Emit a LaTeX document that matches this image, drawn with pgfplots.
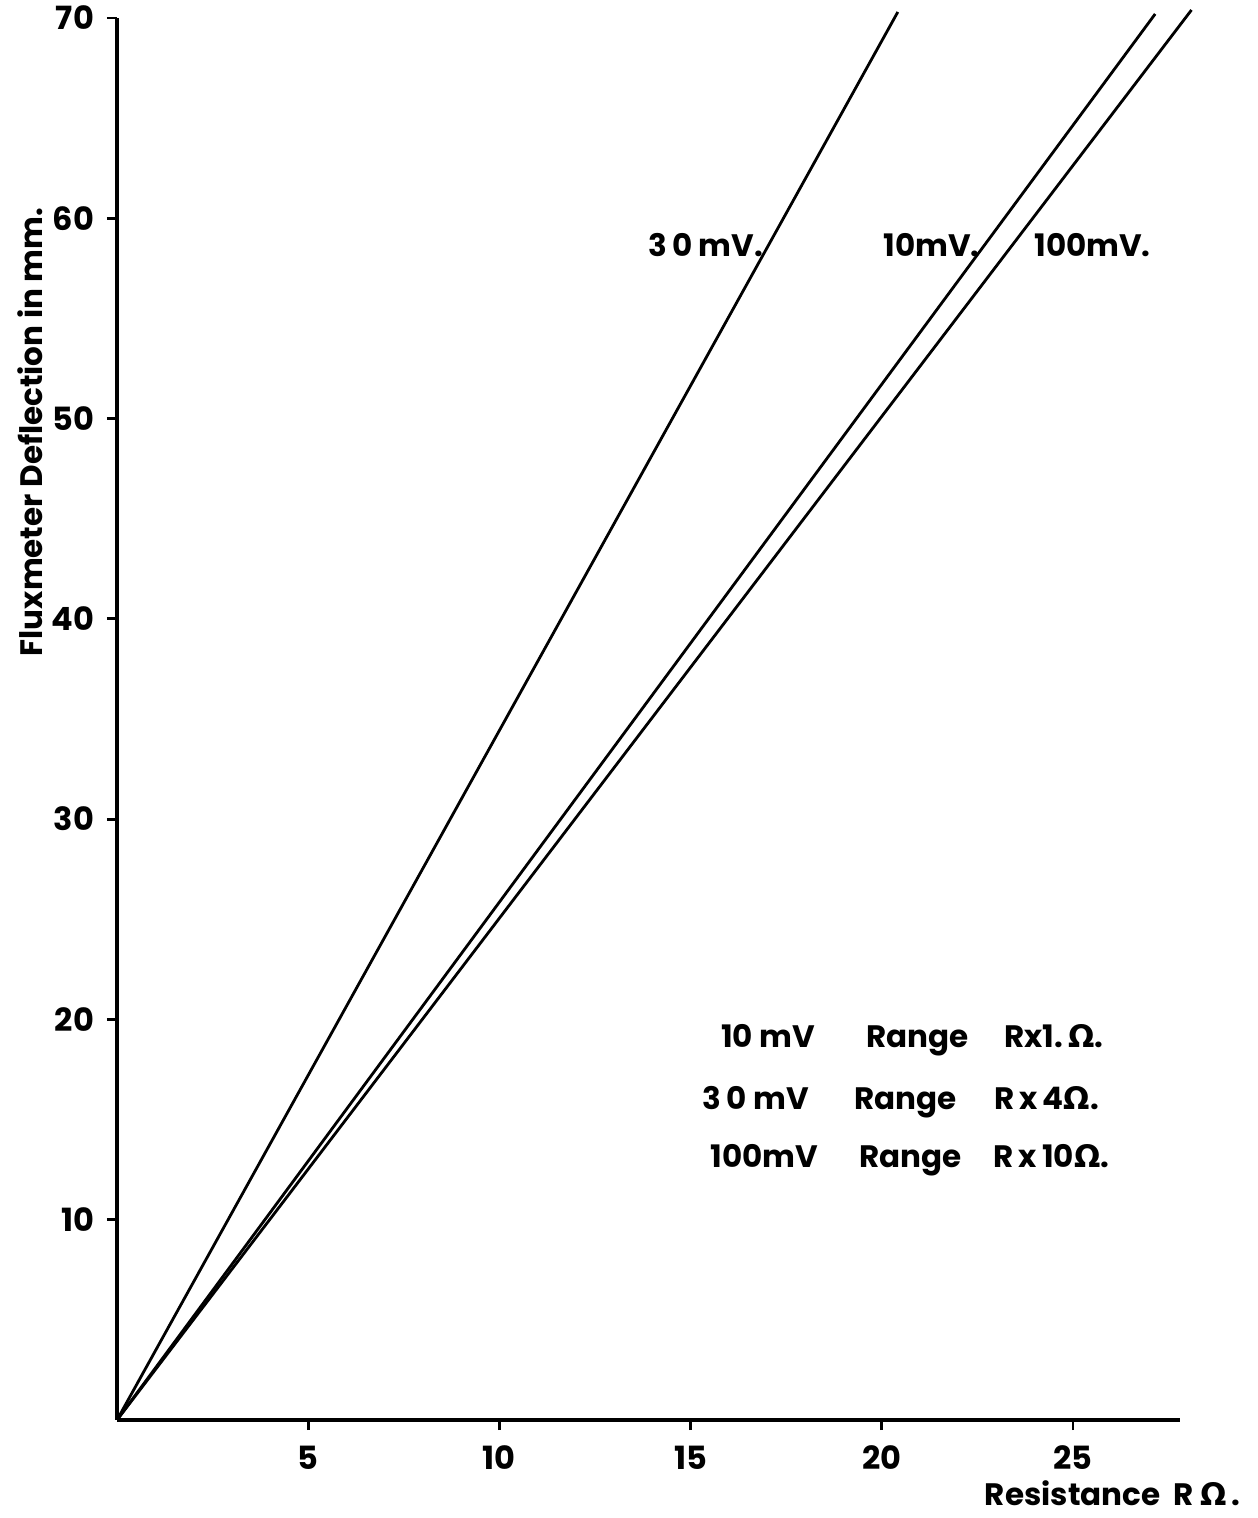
\documentclass[border=0pt]{standalone}
\usepackage{fontspec}
\setmainfont{Poppins}
\newfontfamily\gk{DejaVu Sans}
\usepackage{pgfplots}
\usetikzlibrary{calc}
\pgfplotsset{compat=1.18}
\newcommand{\lf}{\fontsize{15.5}{15.5}\selectfont\bfseries}
\begin{document}
\begin{tikzpicture}
\begin{axis}[
  name=ax,
  scale only axis, width=531.5pt, height=701pt,
  xmin=0, xmax=27.8, ymin=0, ymax=70,
  axis x line*=bottom, axis y line*=left,
  xtick={5,10,15,20,25}, ytick={10,20,30,40,50,60,70},
  tick align=outside, major tick length=5pt,
  axis line style={line width=2pt},
  every tick/.style={line width=1.4pt, black},
  ticklabel style={font=\fontsize{16}{16}\selectfont\bfseries},
  xticklabel style={yshift=-4.5pt},
  yticklabel style={xshift=-3pt},
  /pgf/number format/assume math mode=true,
  clip=false,
]
\coordinate (bl) at (rel axis cs:0,0);
\addplot[black, line width=1.4pt] coordinates {(0,0) (20.42,70.3)};
\addplot[black, line width=1.4pt] coordinates {(0,0) (27.15,70.2)};
\addplot[black, line width=1.4pt] coordinates {(0,0) (28.1,70.4)};
\node[anchor=base east, font=\lf, inner sep=0pt] at (axis cs:16.91,58.1) {3\,0 mV.};
\node[anchor=base east, font=\lf, inner sep=0pt] at (axis cs:22.57,58.1) {10mV.};
\node[anchor=base west, font=\lf, inner sep=0pt] at (axis cs:23.98,58.1) {100mV.};
% key text
\node[anchor=base west, font=\lf, inner sep=0pt] at (axis cs:15.79,18.62) {10 mV};
\node[anchor=base west, font=\lf, inner sep=0pt] at (axis cs:19.58,18.62) {Range};
\node[anchor=base west, font=\lf, inner sep=0pt] at (axis cs:23.19,18.62) {Rx1.\,{\gk Ω}.};
\node[anchor=base west, font=\lf, inner sep=0pt] at (axis cs:15.31,15.48) {3\,0 mV};
\node[anchor=base west, font=\lf, inner sep=0pt] at (axis cs:19.27,15.48) {Range};
\node[anchor=base west, font=\lf, inner sep=0pt] at (axis cs:22.93,15.48) {R\,x\,4{\gk Ω}.};
\node[anchor=base west, font=\lf, inner sep=0pt] at (axis cs:15.52,12.63) {100mV};
\node[anchor=base west, font=\lf, inner sep=0pt] at (axis cs:19.40,12.63) {Range};
\node[anchor=base west, font=\lf, inner sep=0pt] at (axis cs:22.91,12.63) {R\,x\,10{\gk Ω}.};
\end{axis}
\node[anchor=base east, font=\lf, inner sep=0pt] at ($(bl)+(562pt,-42.5pt)$) {Resistance\ \ R\ {\gk Ω}\,.};
\node[rotate=90, font=\lf] at ($(bl)+(-43.5pt,494pt)$) {Fluxmeter Deflection in mm.};
\pgfresetboundingbox
\path (bl) ++(-58.5pt,-49pt) rectangle ++(628.5pt,759pt);
\end{tikzpicture}
\end{document}
